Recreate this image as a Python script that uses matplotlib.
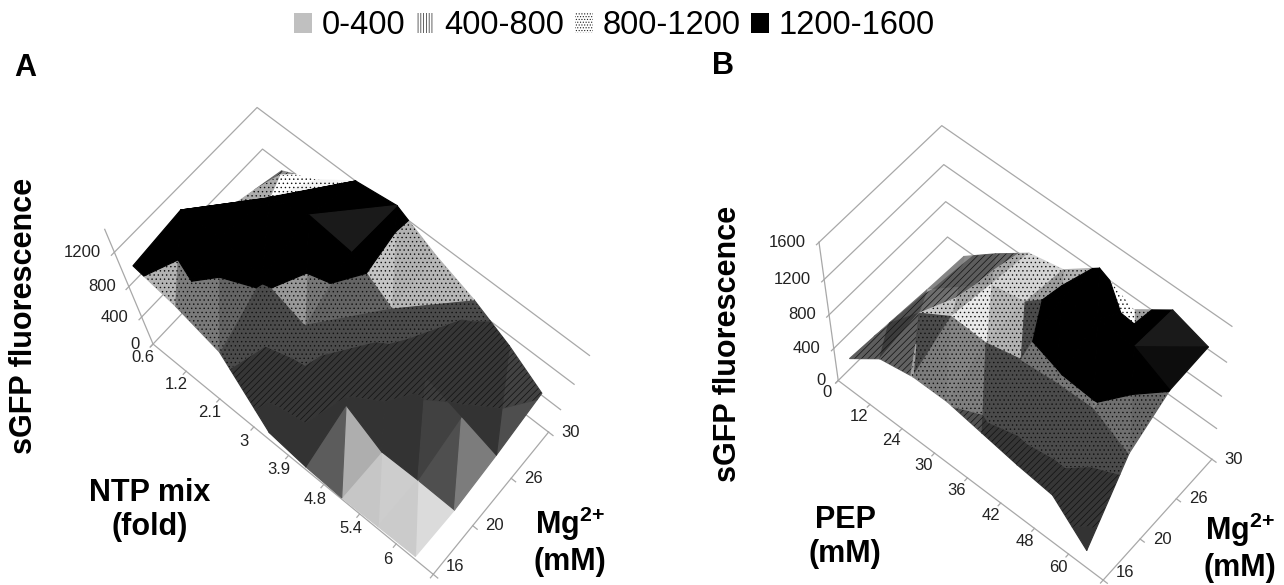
import matplotlib
matplotlib.use("Agg")
import matplotlib.pyplot as plt
import numpy as np
from matplotlib.patches import Patch
from mpl_toolkits.mplot3d import proj3d
from mpl_toolkits.mplot3d.art3d import Poly3DCollection

plt.rcParams["font.family"] = ["Liberation Sans", "DejaVu Sans"]
plt.rcParams["mathtext.fontset"] = "custom"
plt.rcParams["mathtext.bf"] = "Liberation Sans:bold"
plt.rcParams["mathtext.rm"] = "Liberation Sans"
plt.rcParams["hatch.linewidth"] = 0.5

W, H = 1284, 585

mg_labels = ["16", "20", "26", "30"]
ntp_labels = ["0.6", "1.2", "2.1", "3", "3.9", "4.8", "5.4", "6"]
pep_labels = ["0", "12", "24", "30", "36", "42", "48", "60"]
band_labels = ["0-400", "400-800", "800-1200", "1200-1600"]
band_edges = [0, 400, 800, 1200, 1700]

# fluorescence, one row per Mg level
ntp_z = [
    [1225, 1125, 950, 160, 65, 30, 55, 75],
    [1280, 1330, 1240, 1060, 335, 15, 30, 20],
    [855, 1215, 1355, 1305, 1025, 500, 340, 175],
    [715, 915, 1200, 1260, 1055, 895, 685, 425],
]
pep_z = [
    [425, 720, 805, 810, 740, 670, 620, 235],
    [385, 795, 1040, 1025, 1130, 1170, 1180, 950],
    [340, 650, 955, 1040, 1370, 1420, 1400, 1205],
    [305, 605, 880, 965, 1255, 1070, 1350, 1225],
]
# cells where the facet crease runs the other way
ntp_flip = [(0, 1), (1, 2), (2, 2), (3, 1), (4, 2)]
pep_flip = [(6, 2)]
# slightly lighter black facets: (i, j, triangle) -> grey
ntp_lit = {(2, 2, 0): 0.1}
pep_lit = {(6, 2, 0): 0.05, (6, 2, 1): 0.1}

# view fitted to the floor and wall corners
view_a = (69.673, -50.099, 0.44296, 0.50330, 0.74428)
rect_a = (0.06073, -0.04431, 0.40995, 0.89978)
view_b = (59.668, -50.036, 0.91159, 0.49775, 0.74175)
rect_b = (0.60889, -0.01961, 0.36614, 0.80362)


def clip_z(poly, lo, hi):
    for limit, sign in ((lo, 1), (hi, -1)):
        out = []
        for k in range(len(poly)):
            a, b = poly[k], poly[(k + 1) % len(poly)]
            da, db = sign * (a[2] - limit), sign * (b[2] - limit)
            if da >= 0:
                out.append(a)
            if da * db < 0:
                out.append(a + (b - a) * da / (da - db))
        poly = out
        if not poly:
            break
    return poly


def shade_of(tri):
    # gradient of the facet per cell, in units of 400
    a, b, c = tri
    m = np.array([b[:2] - a[:2], c[:2] - a[:2]])
    g = np.linalg.solve(m, np.array([b[2] - a[2], c[2] - a[2]])) / 400
    slope_x = 0.4 * g[0] if g[0] > 0 else -0.15 * g[0]
    return float(np.clip(0.78 - 0.6 * g[1] - slope_x, 0.2, 1.0))


def band_grey(b, s):
    if b == 1:
        return 0.12 + 0.45 * s
    if b == 2:
        return 0.12 + 0.88 * s
    return s


def draw_surface(ax, z, flip, lit):
    z = np.array(z, dtype=float)
    polys = [[] for _ in band_labels]
    cols = [[] for _ in band_labels]
    for j in range(z.shape[0] - 1):
        for i in range(z.shape[1] - 1):
            p = lambda a, b: np.array([a + 0.5, b, z[b, a]])
            if (i, j) in flip:
                tris = [(p(i, j), p(i + 1, j), p(i + 1, j + 1)), (p(i, j), p(i + 1, j + 1), p(i, j + 1))]
            else:
                tris = [(p(i, j), p(i + 1, j), p(i, j + 1)), (p(i + 1, j), p(i + 1, j + 1), p(i, j + 1))]
            for t, tri in enumerate(tris):
                s = shade_of(tri)
                for b in range(4):
                    piece = clip_z(list(tri), band_edges[b], band_edges[b + 1])
                    if len(piece) >= 3:
                        polys[b].append([tuple(v) for v in piece])
                        g = lit.get((i, j, t), 0.0) if b == 3 else band_grey(b, s)
                        cols[b].append((g, g, g, 1))
    hatches = [None, "/////", "....", None]
    for b in range(4):
        if not polys[b]:
            continue
        base = Poly3DCollection(polys[b], facecolors=cols[b], edgecolors=cols[b], linewidths=0.9, zorder=5 + 2 * b)
        base.set_clip_on(False)
        ax.add_collection3d(base)
        if hatches[b]:
            over = Poly3DCollection(polys[b], facecolors=(0, 0, 0, 0), edgecolors="#111111", linewidths=0,
                                    hatch=hatches[b], zorder=6 + 2 * b)
            over.set_clip_on(False)
            ax.add_collection3d(over)


def label3d(ax, x, y, z, s, dx, dy, ha="center"):
    xp, yp, _ = proj3d.proj_transform(x, y, z, ax.get_proj())
    ax.annotate(s, (xp, yp), xytext=(dx, dy), textcoords="offset pixels", ha=ha, va="center",
                fontsize=12, color="#222222", annotation_clip=False, zorder=20)


def draw_frame(ax, zmax, zticks, xlabels, xoff, yoff, zoff):
    line = dict(color="#a8a8a8", lw=0.9, clip_on=False, zorder=1)
    nx, ny = 8, 3
    for zt in zticks:
        ax.plot([0, 0, nx], [0, ny, ny], [zt, zt, zt], **line)
        ax.plot([0, 0], [0, -0.06], [zt, zt], **line)
        label3d(ax, 0, 0, zt, str(zt), zoff[0], zoff[1], ha="right")
    ax.plot([0, 0], [0, 0], [0, zmax], **line)
    ax.plot([0, nx, nx], [0, 0, ny], [0, 0, 0], **line)
    for i in range(nx + 1):
        ax.plot([i, i], [0, -0.07], [0, 0], **line)
    for j in range(ny + 1):
        ax.plot([nx, nx + 0.12], [j, j], [0, 0], **line)
        # the lowest label sits right on the picture's bottom edge
        label3d(ax, nx, j, 0, mg_labels[j], yoff[0], yoff[1] + (8 if j == 0 else 0))
    for i, s in enumerate(xlabels):
        label3d(ax, i + 0.5, 0, 0, s, xoff[0], xoff[1])


def setup(view, zmax, rect):
    elev, azim, f, by, bz = view
    ax = fig.add_axes(rect, projection="3d", computed_zorder=False)
    ax.set_xlim(0, 8)
    ax.set_ylim(0, 3)
    ax.set_zlim(0, zmax)
    ax.view_init(elev=elev, azim=azim)
    ax.set_proj_type("persp", focal_length=f)
    ax.set_box_aspect((1, by, bz))
    ax.set_axis_off()
    ax.patch.set_alpha(0)
    ax.apply_aspect()
    return ax


def px(x, y):
    return x / W, 1 - y / H


fig = plt.figure(figsize=(W / 100, H / 100), dpi=100)

ax_a = setup(view_a, 1440, rect_a)
draw_frame(ax_a, 1440, [0, 400, 800, 1200], ntp_labels, (-27, 0), (22, 0), (-13, 0))
draw_surface(ax_a, ntp_z, ntp_flip, ntp_lit)

ax_b = setup(view_b, 1600, rect_b)
draw_frame(ax_b, 1600, [0, 400, 800, 1200, 1600], pep_labels, (-27, 0), (22, 0), (-13, 0))
draw_surface(ax_b, pep_z, pep_flip, pep_lit)

bold = dict(fontsize=22, fontweight="bold", ha="center", va="center", color="black", linespacing=1.2)
mg_text = "Mg$^{\\mathbf{2{+}}}$\n(mM)"

fig.text(*px(25, 68), "A", **bold)
fig.text(*px(723, 66), "B", **bold)
fig.text(*px(24, 316), "sGFP fluorescence", rotation=90, **bold)
fig.text(*px(728, 344), "sGFP fluorescence", rotation=90, **bold)
fig.text(*px(150, 510), "NTP mix\n(fold)", **bold)
fig.text(*px(845, 537), "PEP\n(mM)", **bold)
fig.text(*px(570, 541), mg_text, **bold)
fig.text(*px(1240, 547), mg_text, **bold)

handles = [
    Patch(facecolor="#c0c0c0", edgecolor="none", label=band_labels[0]),
    Patch(facecolor="white", edgecolor="#222222", lw=0, hatch="||||||", label=band_labels[1]),
    Patch(facecolor="white", edgecolor="#222222", lw=0, hatch="......", label=band_labels[2]),
    Patch(facecolor="black", edgecolor="black", lw=0, label=band_labels[3]),
]
fig.legend(handles=handles, ncol=4, loc="center", bbox_to_anchor=px(614.5, 26), frameon=False, fontsize=23.5,
           handlelength=0.55, handleheight=0.6, handletextpad=0.3, columnspacing=0.33, borderpad=0)

fig.savefig("out.png", dpi=100)
